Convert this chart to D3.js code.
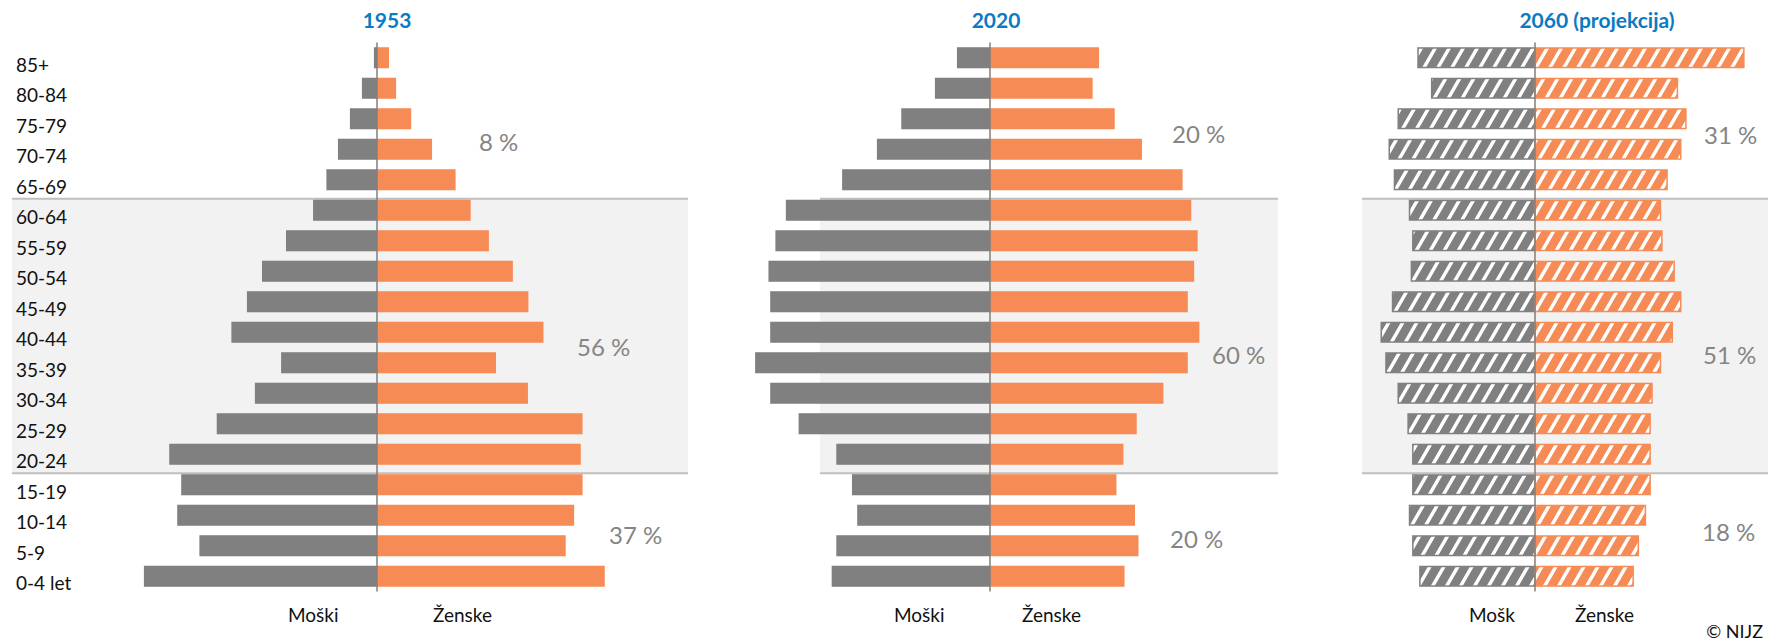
<!DOCTYPE html>
<html>
<head>
<meta charset="utf-8">
<script src="https://cdn.jsdelivr.net/npm/d3@7"></script>
<style>
  body { margin: 0; background: #fff; }
  svg { display: block; font-family: Lato, "Open Sans", sans-serif; }
</style>
</head>
<body>
<svg id="chart" width="1768" height="641"></svg>
<script>
// age groups, top to bottom
const ages = ["85+", "80-84", "75-79", "70-74", "65-69", "60-64", "55-59", "50-54", "45-49",
  "40-44", "35-39", "30-34", "25-29", "20-24", "15-19", "10-14", "5-9", "0-4 let"]

// share of total population (%) by sex and age group
const men1953 = [0.07, 0.34, 0.61, 0.88, 1.14, 1.44, 2.05, 2.59, 2.93, 3.28, 2.16, 2.75, 3.61, 4.68, 4.41, 4.50, 4.00, 5.25]
const women1953 = [0.27, 0.43, 0.77, 1.24, 1.77, 2.11, 2.52, 3.06, 3.41, 3.75, 2.68, 3.40, 4.63, 4.59, 4.63, 4.44, 4.25, 5.13]
const men2020 = [0.57, 0.95, 1.53, 1.95, 2.55, 3.52, 3.70, 3.82, 3.79, 3.79, 4.05, 3.79, 3.30, 2.65, 2.38, 2.29, 2.65, 2.73]
const women2020 = [1.88, 1.77, 2.15, 2.62, 3.32, 3.47, 3.58, 3.52, 3.41, 3.61, 3.41, 2.99, 2.53, 2.30, 2.18, 2.50, 2.56, 2.32]
const men2060 = [2.50, 2.21, 2.92, 3.11, 3.00, 2.68, 2.61, 2.64, 3.04, 3.28, 3.18, 2.92, 2.71, 2.61, 2.61, 2.68, 2.61, 2.46]
const women2060 = [4.45, 3.04, 3.22, 3.11, 2.82, 2.68, 2.71, 2.97, 3.11, 2.93, 2.68, 2.50, 2.46, 2.46, 2.46, 2.36, 2.21, 2.10]

// shares of the three broad groups (65+, 20-64, 0-19)
const groups1953 = ["8 %", "56 %", "37 %"]
const groups2020 = ["20 %", "60 %", "20 %"]
const groups2060 = ["31 %", "51 %", "18 %"]

const titles = ["1953", "2020", "2060 (projekcija)"]
const menLabels = ["Moški", "Moški", "Mošk"]
const womenLabel = "Ženske"

const GREY = "#808080"
const ORANGE = "#f68b55"

const panels = [
  { title: titles[0], men: men1953, women: women1953, groups: groups1953, hatched: false,
    axis: 377, pxPerPct: 44.4, band: [12, 688], titleX: 387, menX: 288, womenX: 433,
    groupPos: [[479, 151], [577, 356], [609, 544]] },
  { title: titles[1], men: men2020, women: women2020, groups: groups2020, hatched: false,
    axis: 990, pxPerPct: 58, band: [820, 1278], titleX: 996, menX: 894, womenX: 1022,
    groupPos: [[1172, 143], [1212, 364], [1170, 548]] },
  { title: titles[2], men: men2060, women: women2060, groups: groups2060, hatched: true,
    axis: 1535, pxPerPct: 47.1, band: [1362, 1768], titleX: 1597, menX: 1469, womenX: 1575,
    groupPos: [[1704, 144], [1703, 364], [1702, 541]] }
]

const svg = d3.select("#chart")

const y = d3.scaleBand()
  .domain(ages)
  .range([42.5, 591.5])
  .paddingInner(0.31)
  .paddingOuter(0.155)

/* diagonal hatch patterns for the projection */
const defs = svg.append("defs")
function hatch(id, color) {
  const p = defs.append("pattern")
    .attr("id", id)
    .attr("patternUnits", "userSpaceOnUse")
    .attr("width", 14)
    .attr("height", 14)
    .attr("patternTransform", "skewX(-30)")
  p.append("rect").attr("width", 14).attr("height", 14).attr("fill", color)
  p.append("rect").attr("x", 5).attr("width", 4).attr("height", 14).attr("fill", "#fff")
}
hatch("hatchGrey", GREY)
hatch("hatchOrange", ORANGE)

const bandTop = y("60-64") - 1
const bandBottom = y("15-19") - 1

panels.forEach((p, k) => {
  const g = svg.append("g")
  const x = d3.scaleLinear().domain([0, 1]).range([0, p.pxPerPct])

  // working-age band
  g.append("rect")
    .attr("x", p.band[0]).attr("width", p.band[1] - p.band[0])
    .attr("y", bandTop).attr("height", bandBottom - bandTop)
    .attr("fill", "#f2f2f2")
  g.selectAll(".bandLine")
    .data([bandTop, bandBottom])
    .join("line")
    .attr("x1", p.band[0]).attr("x2", p.band[1])
    .attr("y1", d => d).attr("y2", d => d)
    .attr("stroke", "#bfbfbf").attr("stroke-width", 2)

  const inset = p.hatched ? 0.75 : 0
  // men
  g.selectAll(".men")
    .data(p.men)
    .join("rect")
    .attr("x", d => p.axis - x(d) + inset)
    .attr("width", d => Math.max(0, x(d) - inset))
    .attr("y", (d, i) => y(ages[i]) + inset)
    .attr("height", y.bandwidth() - 2 * inset)
    .attr("fill", p.hatched ? "url(#hatchGrey)" : GREY)
    .attr("stroke", p.hatched ? GREY : "none")
    .attr("stroke-width", 1.5)

  // women
  g.selectAll(".women")
    .data(p.women)
    .join("rect")
    .attr("x", p.axis)
    .attr("width", d => Math.max(0, x(d) - inset))
    .attr("y", (d, i) => y(ages[i]) + inset)
    .attr("height", y.bandwidth() - 2 * inset)
    .attr("fill", p.hatched ? "url(#hatchOrange)" : ORANGE)
    .attr("stroke", p.hatched ? ORANGE : "none")
    .attr("stroke-width", 1.5)

  // centre axis
  g.append("line")
    .attr("x1", p.axis).attr("x2", p.axis)
    .attr("y1", y.range()[0]).attr("y2", y.range()[1])
    .attr("stroke", "#7f7f7f").attr("stroke-width", 1.5)

  g.append("text")
    .attr("x", p.titleX).attr("y", 28)
    .attr("text-anchor", "middle")
    .attr("font-size", 21).attr("font-weight", "bold")
    .attr("fill", "#0a7bc2")
    .text(p.title)

  g.selectAll(".grp")
    .data(p.groups)
    .join("text")
    .attr("x", (d, i) => p.groupPos[i][0])
    .attr("y", (d, i) => p.groupPos[i][1])
    .attr("font-size", 24)
    .attr("fill", "#858585")
    .text(d => d)

  g.append("text")
    .attr("x", p.menX).attr("y", 622)
    .attr("font-size", 19).attr("fill", "#111")
    .text(menLabels[k])
  g.append("text")
    .attr("x", p.womenX).attr("y", 622)
    .attr("font-size", 19).attr("fill", "#111")
    .text(womenLabel)
})

// age labels
svg.append("g")
  .selectAll("text")
  .data(ages)
  .join("text")
  .attr("x", 16)
  .attr("y", d => y(d) + y.bandwidth() / 2 + 14)
  .attr("font-size", 19)
  .attr("fill", "#111")
  .text(d => d)

svg.append("text")
  .attr("x", 1763).attr("y", 638)
  .attr("text-anchor", "end")
  .attr("font-size", 18).attr("fill", "#111")
  .text("© NIJZ")
</script>
</body>
</html>
